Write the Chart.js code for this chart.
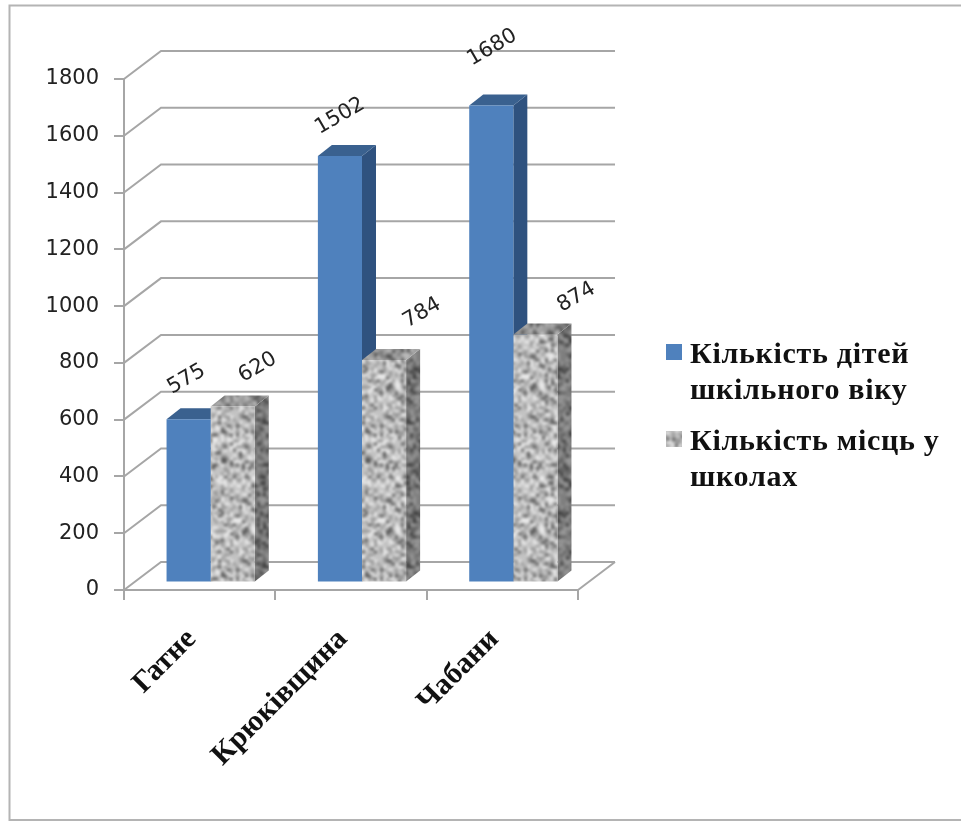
<!DOCTYPE html>
<html>
<head>
<meta charset="utf-8">
<style>html,body{margin:0;padding:0;background:#fff}canvas{display:block}</style>
<script src="https://cdn.jsdelivr.net/npm/chart.js@4/dist/chart.umd.min.js"></script>
</head>
<body>
<canvas id="c" width="961" height="821"></canvas>
<script>
const categories = ['Гатне', 'Крюківщина', 'Чабани'];
const childrenValues = [575, 1502, 1680];
const placesValues = [620, 784, 874];
const seriesNames = ['Кількість дітей шкільного віку', 'Кількість місць у школах'];
const legendLines = [['Кількість дітей', 'шкільного віку'], ['Кількість місць у', 'школах']];
const yTicks = [0, 200, 400, 600, 800, 1000, 1200, 1400, 1600, 1800];

const GRID = '#a6a6a6', BLUE = '#4f81bd', BLUE_TOP = '#3a618f', BLUE_SIDE = '#2f527f';
const SERIF = '"Liberation Serif", serif', SANS = '"DejaVu Sans", sans-serif';
const WALL = {dx: 37, dy: -28}, SHIFT = {dx: 11, dy: -7.5}, DEPTH = {dx: 14, dy: -11};
const labelNudges = [[[-2, -40], [0, -40], [1, -58]], [[25, -39], [38, -47], [41, -37]]];

function granite(shade) {
  const n = 48, s = 3, small = document.createElement('canvas');
  small.width = small.height = n;
  const sc = small.getContext('2d'), im = sc.createImageData(n, n);
  for (let y = 0; y < n; y++) for (let x = 0; x < n; x++) {
    const h = Math.sin(x * 12.9898 + y * 78.233) * 43758.5453, r = h - Math.floor(h);
    const v = Math.round((r < 0.14 ? 95 : r < 0.4 ? 155 : r < 0.75 ? 195 : 230) * shade), i = (y * n + x) * 4;
    im.data[i] = im.data[i + 1] = im.data[i + 2] = v; im.data[i + 3] = 255;
  }
  sc.putImageData(im, 0, 0);
  const tiled = document.createElement('canvas');
  tiled.width = tiled.height = n * 3;
  const tc = tiled.getContext('2d');
  for (let ox = 0; ox < 3; ox++) for (let oy = 0; oy < 3; oy++) tc.drawImage(small, ox * n, oy * n);
  const big = document.createElement('canvas');
  big.width = big.height = n * s;
  const bc = big.getContext('2d');
  bc.imageSmoothingEnabled = true; bc.imageSmoothingQuality = 'high';
  bc.filter = 'blur(1px)';
  bc.drawImage(tiled, -n * s, -n * s, n * 3 * s, n * 3 * s);
  return big;
}
const ctx0 = document.getElementById('c').getContext('2d');
const frontTile = ctx0.createPattern(granite(1), 'repeat');
const topTile = ctx0.createPattern(granite(0.8), 'repeat');
const sideTile = ctx0.createPattern(granite(0.65), 'repeat');

function poly(ctx, pts, fill) {
  ctx.beginPath();
  pts.forEach((p, i) => i ? ctx.lineTo(p[0], p[1]) : ctx.moveTo(p[0], p[1]));
  ctx.closePath();
  ctx.fillStyle = fill;
  ctx.fill();
}

const scene3d = {
  id: 'scene3d',
  beforeDraw(chart) {
    const c = chart.ctx;
    c.save();
    c.strokeStyle = '#b4b4b4'; c.lineWidth = 2;
    c.beginPath(); c.moveTo(961, 5.5); c.lineTo(9.5, 5.5); c.lineTo(9.5, 820); c.lineTo(961, 820); c.stroke();
    c.restore();
  },
  beforeDatasetsDraw(chart) {
    const c = chart.ctx, y = chart.scales.y, a = chart.chartArea;
    c.save();
    c.strokeStyle = GRID; c.lineWidth = 2;
    y.ticks.forEach(t => {
      const py = y.getPixelForValue(t.value);
      c.beginPath(); c.moveTo(a.left, py); c.lineTo(a.left + WALL.dx, py + WALL.dy); c.lineTo(a.right + WALL.dx, py + WALL.dy); c.stroke();
    });
    const y0 = y.getPixelForValue(0);
    c.beginPath(); c.moveTo(a.right, y0); c.lineTo(a.right + WALL.dx, y0 + WALL.dy); c.stroke();
    c.translate(SHIFT.dx, SHIFT.dy);
    [0, 1].forEach(d => {
      chart.getDatasetMeta(d).data.forEach(b => {
        const L = b.x - b.width / 2, R = b.x + b.width / 2, T = b.y, B = b.base;
        poly(c, [[R, T], [R + DEPTH.dx, T + DEPTH.dy], [R + DEPTH.dx, B + DEPTH.dy], [R, B]], d ? sideTile : BLUE_SIDE);
        poly(c, [[L, T], [L + DEPTH.dx, T + DEPTH.dy], [R + DEPTH.dx, T + DEPTH.dy], [R, T]], d ? topTile : BLUE_TOP);
      });
    });
    c.restore();
    c.save();
    c.translate(SHIFT.dx, SHIFT.dy);
  },
  afterDatasetsDraw(chart) {
    const c = chart.ctx;
    c.restore();
    c.save();
    c.font = '21px ' + SANS; c.fillStyle = '#222'; c.textAlign = 'center'; c.textBaseline = 'middle';
    [0, 1].forEach(d => {
      chart.getDatasetMeta(d).data.forEach((b, i) => {
        const n = labelNudges[d][i];
        c.save();
        c.translate(b.x + SHIFT.dx + n[0], b.y + SHIFT.dy + n[1]);
        c.rotate(-30 * Math.PI / 180);
        c.fillText(String(chart.data.datasets[d].data[i]), 0, 0);
        c.restore();
      });
    });
    // legend
    c.textAlign = 'left'; c.textBaseline = 'alphabetic'; c.fillStyle = '#111';
    c.font = 'bold 30px ' + SERIF;
    c.letterSpacing = '0.7px';
    c.fillText(legendLines[0][0], 690, 363);
    c.fillText(legendLines[0][1], 690, 399);
    c.fillText(legendLines[1][0], 690, 450);
    c.fillText(legendLines[1][1], 690, 486);
    c.letterSpacing = '0px';
    c.fillStyle = BLUE; c.fillRect(666, 344, 16, 16);
    c.fillStyle = frontTile; c.fillRect(666, 431, 16, 16);
    c.restore();
  }
};

new Chart(ctx0, {
  type: 'bar',
  data: {
    labels: categories,
    datasets: [
      {label: seriesNames[0], data: childrenValues, backgroundColor: BLUE, barPercentage: 1, categoryPercentage: 0.583},
      {label: seriesNames[1], data: placesValues, backgroundColor: frontTile, barPercentage: 1, categoryPercentage: 0.583}
    ]
  },
  options: {
    responsive: false,
    animation: false,
    devicePixelRatio: 1,
    layout: {padding: {left: 44, top: 79, right: 383, bottom: 41}},
    plugins: {legend: {display: false}, tooltip: {enabled: false}, title: {display: false}},
    scales: {
      x: {
        afterFit(s) { s.height = 190; },
        border: {color: GRID, width: 2},
        grid: {drawOnChartArea: false, drawTicks: true, tickLength: 10, color: GRID, lineWidth: 2},
        ticks: {maxRotation: 45, minRotation: 45, padding: 22, labelOffset: -8, color: '#111', font: {family: SERIF, weight: 'bold', size: 30}}
      },
      y: {
        min: 0, max: 1800,
        afterFit(s) { s.width = 80; },
        afterBuildTicks(s) { s.ticks = yTicks.map(v => ({value: v})); },
        border: {color: GRID, width: 2},
        grid: {drawOnChartArea: false, drawTicks: true, tickLength: 10, color: GRID, lineWidth: 2},
        ticks: {padding: 15, color: '#222', font: {family: SANS, size: 21}, callback: v => String(v)}
      }
    }
  },
  plugins: [scene3d]
});
</script>
</body>
</html>
